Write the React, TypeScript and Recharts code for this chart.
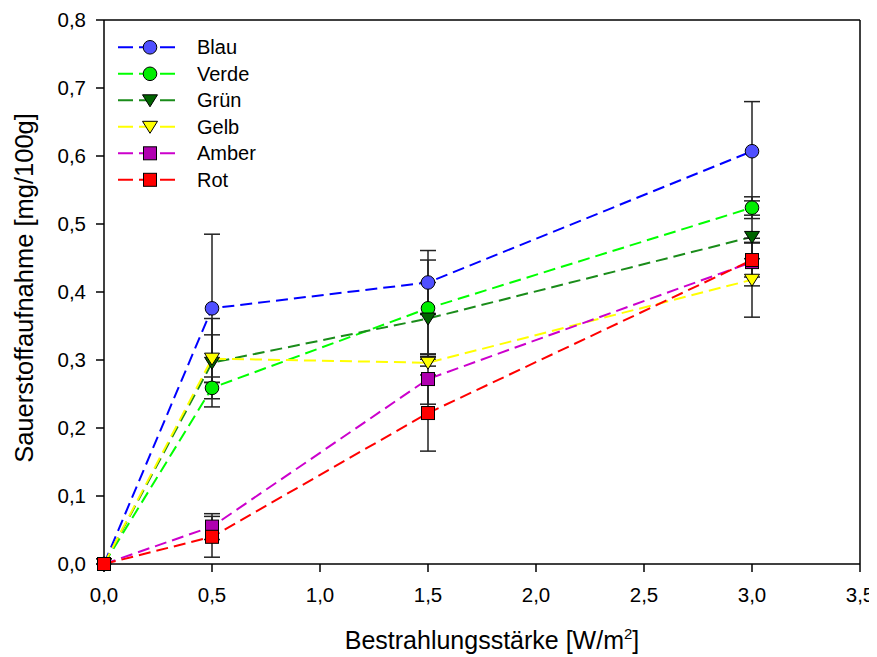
import React from "react";
import { LineChart, Line, XAxis, YAxis, ErrorBar, ReferenceLine } from "recharts";

const xValues = [0, 0.5, 1.5, 3.0];
const xTicks = [0, 0.5, 1, 1.5, 2, 2.5, 3, 3.5];
const yTicks = [0, 0.1, 0.2, 0.3, 0.4, 0.5, 0.6, 0.7, 0.8];

const blauY = [0, 0.376, 0.414, 0.607];
const blauErr = [0, 0.109, 0.047, 0.073];
const verdeY = [0, 0.259, 0.376, 0.524];
const verdeErr = [0, 0.016, 0.071, 0.016];
const gruenY = [0, 0.296, 0.361, 0.481];
const gruenErr = [0, 0.065, 0.053, 0.032];
const gelbY = [0, 0.302, 0.296, 0.418];
const gelbErr = [0, 0.035, 0.005, 0.055];
const amberY = [0, 0.055, 0.272, 0.444];
const amberErr = [0, 0.019, 0.037, 0.035];
const rotY = [0, 0.04, 0.222, 0.447];
const rotErr = [0, 0.03, 0.056, 0.025];

type Shape = "circle" | "triangle" | "square";

const series = [
  { name: "Blau", y: blauY, err: blauErr, line: "#0000ff", fill: "#5050ff", shape: "circle" as Shape },
  { name: "Verde", y: verdeY, err: verdeErr, line: "#00ff00", fill: "#00ee00", shape: "circle" as Shape },
  { name: "Grün", y: gruenY, err: gruenErr, line: "#1a8c1a", fill: "#006400", shape: "triangle" as Shape },
  { name: "Gelb", y: gelbY, err: gelbErr, line: "#ffff00", fill: "#ffff00", shape: "triangle" as Shape },
  { name: "Amber", y: amberY, err: amberErr, line: "#cc00cc", fill: "#b000b0", shape: "square" as Shape },
  { name: "Rot", y: rotY, err: rotErr, line: "#ff0000", fill: "#ff0000", shape: "square" as Shape },
];

const FONT = "'Liberation Sans', Arial, sans-serif";
const fmt = (v: number) => v.toFixed(1).replace(".", ",");

function Marker({ cx, cy, shape, fill }: { cx: number; cy: number; shape: Shape; fill: string }) {
  if (shape === "circle") {
    return <circle cx={cx} cy={cy} r={6.8} fill={fill} stroke="#000" strokeWidth={1} />;
  }
  if (shape === "triangle") {
    const w = 7.5;
    const h = 12;
    return (
      <polygon
        points={`${cx - w},${cy - h / 2 + 0.5} ${cx + w},${cy - h / 2 + 0.5} ${cx},${cy + h / 2 + 0.5}`}
        fill={fill}
        stroke="#000"
        strokeWidth={1}
      />
    );
  }
  const s = 6.5;
  return <rect x={cx - s} y={cy - s} width={2 * s} height={2 * s} fill={fill} stroke="#000" strokeWidth={1} />;
}

function YTitle(props: any) {
  const vb = props.viewBox || {};
  const x = (vb.x ?? 0) + 25;
  const cy = (vb.y ?? 0) + (vb.height ?? 0) / 2 - 4;
  return (
    <text x={x} y={cy} transform={`rotate(-90, ${x}, ${cy})`} textAnchor="middle" fontSize={25.5} fontFamily={FONT} fill="#000">
      Sauerstoffaufnahme [mg/100g]
    </text>
  );
}

function XTitle(props: any) {
  const vb = props.viewBox || {};
  const cx = (vb.x ?? 0) + (vb.width ?? 0) / 2 + 10;
  const y = (vb.y ?? 0) + 85;
  return (
    <text x={cx} y={y} textAnchor="middle" fontSize={25} fontFamily={FONT} fill="#000">
      Bestrahlungsstärke [W/m
      <tspan dy={-10} fontSize={15}>2</tspan>
      <tspan dy={10}>]</tspan>
    </text>
  );
}

function LegendBox() {
  return (
    <div style={{ position: "absolute", left: 100, top: 20, pointerEvents: "none" }}>
      <svg width={260} height={170}>
        {series.map((s, i) => {
          const y = 19.3 + i * 26.5;
          return (
            <g key={s.name}>
              <line x1={10} y1={y} x2={67} y2={y} stroke={s.line} strokeWidth={2} strokeDasharray="15 6" />
              <Marker cx={42} cy={y} shape={s.shape} fill={s.fill} />
              <text x={89} y={y + 7} fontSize={20} fontFamily={FONT} fill="#000">
                {s.name}
              </text>
            </g>
          );
        })}
      </svg>
    </div>
  );
}

export default function App() {
  const seriesData = series.map((s) =>
    xValues.map((x, i) => ({ x, y: s.y[i], err: s.err[i] }))
  );
  return (
    <div style={{ position: "relative", width: 869, height: 649, fontFamily: FONT }}>
      <LineChart width={869} height={649} margin={{ top: 12, right: 17, left: 0, bottom: 0 }}>
        <XAxis
          dataKey="x"
          type="number"
          domain={[0, 3.5]}
          ticks={xTicks}
          tickFormatter={fmt}
          allowDuplicatedCategory={false}
          height={93}
          stroke="#000"
          strokeWidth={1.5}
          tickSize={8}
          tickMargin={15}
          tick={{ fill: "#000", fontSize: 20.5, fontFamily: FONT }}
          label={(p: any) => <XTitle {...p} />}
        />
        <YAxis
          type="number"
          domain={[0, 0.8]}
          ticks={yTicks}
          tickFormatter={fmt}
          width={96}
          stroke="#000"
          strokeWidth={1.5}
          tickSize={8}
          tickMargin={10}
          tick={{ fill: "#000", fontSize: 20.5, fontFamily: FONT }}
          label={(p: any) => <YTitle {...p} />}
        />
        <ReferenceLine y={0.8} stroke="#000" strokeWidth={1.5} ifOverflow="visible" />
        <ReferenceLine x={3.5} stroke="#000" strokeWidth={1.5} ifOverflow="visible" />
        {series.map((s, si) => (
          <Line
            key={s.name}
            data={seriesData[si]}
            dataKey="y"
            name={s.name}
            type="linear"
            stroke={s.line}
            strokeWidth={2}
            strokeDasharray="12 6"
            isAnimationActive={false}
            dot={(p: any) => (
              <Marker key={`${s.name}-${p.index}`} cx={p.cx} cy={p.cy} shape={s.shape} fill={s.fill} />
            )}
            activeDot={false}
          >
            <ErrorBar dataKey="err" width={8} stroke="#222" strokeWidth={1.5} direction="y" />
          </Line>
        ))}
      </LineChart>
      <LegendBox />
    </div>
  );
}
